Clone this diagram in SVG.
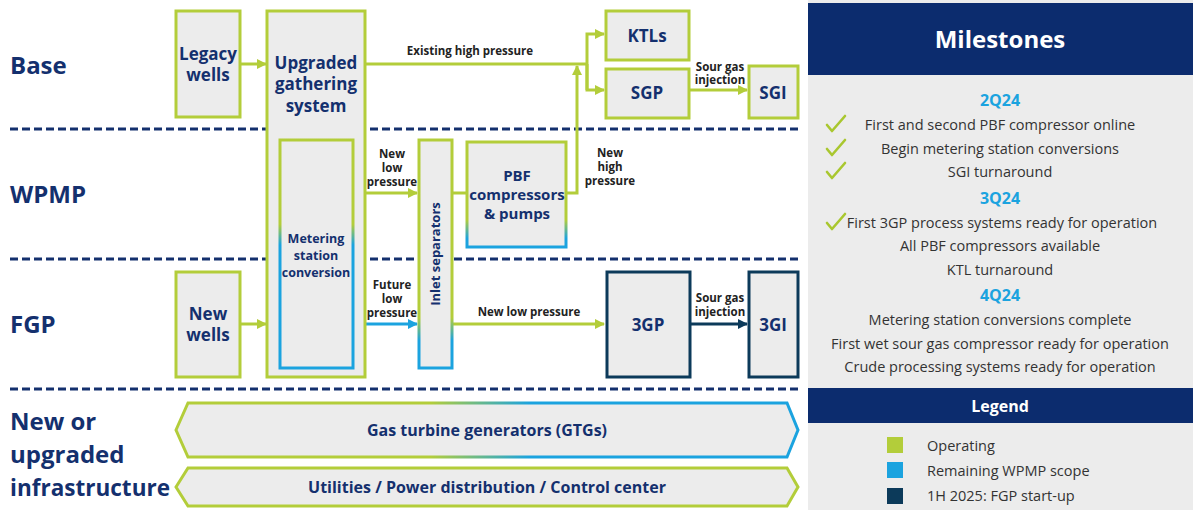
<svg xmlns="http://www.w3.org/2000/svg" width="1193" height="510" viewBox="0 0 1193 510">
<style>
.box{fill:#ececec;stroke:#b3cd3a;stroke-width:3}
.boxd{fill:#ececec;stroke:#0c3a5a;stroke-width:3}
.lbl{font-family:"Open Sans","Liberation Sans",sans-serif;font-weight:700;fill:#14306e;text-anchor:middle}
.row{font-family:"Open Sans","Liberation Sans",sans-serif;font-weight:700;fill:#14306e;font-size:24px}
.cl{font-family:"Open Sans","Liberation Sans",sans-serif;font-weight:700;fill:#222;font-size:11.5px;text-anchor:middle}
.dash{stroke:#14306e;stroke-width:3;stroke-dasharray:8 4;fill:none}
.g{stroke:#b3cd3a;stroke-width:3;fill:none}
.b{stroke:#1ba3df;stroke-width:3;fill:none}
.d{stroke:#0c3a5a;stroke-width:3;fill:none}
.ms{font-family:"Open Sans","Liberation Sans",sans-serif;fill:#333;font-size:14.5px;text-anchor:middle}
.q{font-family:"Open Sans","Liberation Sans",sans-serif;font-weight:700;fill:#1ba3df;font-size:16px;text-anchor:middle}
.hd{font-family:"Open Sans","Liberation Sans",sans-serif;font-weight:700;fill:#fff;text-anchor:middle}
.lg{font-family:"Open Sans","Liberation Sans",sans-serif;fill:#333;font-size:14.5px}
.chk{fill:none;stroke:#a9c72f;stroke-width:2.6;stroke-linecap:round;stroke-linejoin:round}
</style>
<defs>
<marker id="ag" markerWidth="10" markerHeight="10" refX="9" refY="5" orient="auto" markerUnits="userSpaceOnUse"><path d="M0,0 L10,5 L0,10 Z" fill="#b3cd3a"/></marker>
<marker id="ab" markerWidth="10" markerHeight="10" refX="9" refY="5" orient="auto" markerUnits="userSpaceOnUse"><path d="M0,0 L10,5 L0,10 Z" fill="#1ba3df"/></marker>
<marker id="ad" markerWidth="10" markerHeight="10" refX="9" refY="5" orient="auto" markerUnits="userSpaceOnUse"><path d="M0,0 L10,5 L0,10 Z" fill="#0c3a5a"/></marker>
<linearGradient id="gMet" gradientUnits="userSpaceOnUse" x1="0" y1="140" x2="0" y2="368"><stop offset="0.37" stop-color="#b3cd3a"/><stop offset="0.46" stop-color="#1ba3df"/></linearGradient>
<linearGradient id="gInl" gradientUnits="userSpaceOnUse" x1="0" y1="140" x2="0" y2="368"><stop offset="0.78" stop-color="#b3cd3a"/><stop offset="0.88" stop-color="#1ba3df"/></linearGradient>
<linearGradient id="gPbf" gradientUnits="userSpaceOnUse" x1="0" y1="142" x2="0" y2="247"><stop offset="0.74" stop-color="#b3cd3a"/><stop offset="0.92" stop-color="#1ba3df"/></linearGradient>
<linearGradient id="gGtg" gradientUnits="userSpaceOnUse" x1="430" y1="0" x2="530" y2="0"><stop offset="0" stop-color="#b3cd3a"/><stop offset="1" stop-color="#1ba3df"/></linearGradient>
</defs>
<rect width="1193" height="510" fill="#fff"/>

<g id="dividers">
<line class="dash" x1="10" y1="129" x2="800" y2="129"/>
<line class="dash" x1="10" y1="259" x2="800" y2="259"/>
<line class="dash" x1="10" y1="389" x2="800" y2="389"/>
</g>

<g id="row-labels">
<text class="row" x="10" y="74">Base</text>
<text class="row" x="10" y="203">WPMP</text>
<text class="row" x="10" y="333">FGP</text>
<text class="row" x="10" y="430">New or</text>
<text class="row" x="10" y="463">upgraded</text>
<text class="row" x="10" y="496" textLength="160" lengthAdjust="spacingAndGlyphs">infrastructure</text>
</g>

<g id="connectors">
<line class="g" x1="240" y1="64" x2="266" y2="64" marker-end="url(#ag)"/>
<line class="g" x1="240" y1="324" x2="266" y2="324" marker-end="url(#ag)"/>
<polyline class="g" points="365,64 587,64"/>
<polyline class="g" points="587,90 587,34 604,34" marker-end="url(#ag)"/>
<polyline class="g" points="587,64 587,90 604,90" marker-end="url(#ag)"/>
<polyline class="g" points="567,193 577,193 577,66" marker-end="url(#ag)"/>
<line class="g" x1="690" y1="90" x2="747" y2="90" marker-end="url(#ag)"/>
<line class="g" x1="353" y1="193" x2="417" y2="193" marker-end="url(#ag)"/>
<line class="b" x1="353" y1="324" x2="417" y2="324" marker-end="url(#ab)"/>
<line class="g" x1="452" y1="193" x2="467" y2="193"/>
<line class="g" x1="452" y1="324" x2="604" y2="324" marker-end="url(#ag)"/>
<line class="d" x1="690" y1="324" x2="747" y2="324" marker-end="url(#ad)"/>
<text class="cl" x="470" y="55">Existing high pressure</text>
<text class="cl" x="720" y="71">Sour gas</text>
<text class="cl" x="720" y="84">injection</text>
<text class="cl" x="392" y="158">New</text>
<text class="cl" x="392" y="172">low</text>
<text class="cl" x="392" y="186">pressure</text>
<text class="cl" x="392" y="289">Future</text>
<text class="cl" x="392" y="303">low</text>
<text class="cl" x="392" y="317">pressure</text>
<text class="cl" x="610" y="157">New</text>
<text class="cl" x="610" y="171">high</text>
<text class="cl" x="610" y="185">pressure</text>
<text class="cl" x="529" y="316">New low pressure</text>
<text class="cl" x="720" y="302">Sour gas</text>
<text class="cl" x="720" y="316">injection</text>
</g>

<g id="legacy-wells">
<rect class="box" x="176" y="11" width="64" height="106"/>
<text class="lbl" x="208" y="60" font-size="17">Legacy</text>
<text class="lbl" x="208" y="81" font-size="17">wells</text>
</g>

<g id="upgraded-gathering">
<rect class="box" x="267" y="11" width="98" height="366"/>
<text class="lbl" x="316" y="69" font-size="17">Upgraded</text>
<text class="lbl" x="316" y="90" font-size="17">gathering</text>
<text class="lbl" x="316" y="112" font-size="17">system</text>
</g>

<g id="metering-station">
<rect x="280" y="140" width="73" height="228" fill="#ececec" stroke="url(#gMet)" stroke-width="3"/>
<text class="lbl" x="316" y="243" font-size="12.5">Metering</text>
<text class="lbl" x="316" y="260" font-size="12.5">station</text>
<text class="lbl" x="316" y="277" font-size="12.5">conversion</text>
</g>

<g id="inlet-separators">
<rect x="419" y="140" width="33" height="228" fill="#ececec" stroke="url(#gInl)" stroke-width="3"/>
<text class="lbl" transform="translate(440,254) rotate(-90)" font-size="13">Inlet separators</text>
</g>

<g id="pbf">
<rect x="467" y="142" width="99" height="105" fill="#ececec" stroke="url(#gPbf)" stroke-width="3"/>
<text class="lbl" x="517" y="181" font-size="15">PBF</text>
<text class="lbl" x="517" y="200" font-size="15">compressors</text>
<text class="lbl" x="517" y="219" font-size="15">&amp; pumps</text>
</g>

<g id="ktls">
<rect class="box" x="606" y="11" width="83" height="49"/>
<text class="lbl" x="647" y="42" font-size="17">KTLs</text>
</g>

<g id="sgp">
<rect class="box" x="606" y="69" width="83" height="49"/>
<text class="lbl" x="647" y="99" font-size="17">SGP</text>
</g>

<g id="sgi">
<rect class="box" x="749" y="66" width="49" height="52"/>
<text class="lbl" x="773" y="99" font-size="17">SGI</text>
</g>

<g id="new-wells">
<rect class="box" x="176" y="272" width="64" height="105"/>
<text class="lbl" x="208" y="320" font-size="17">New</text>
<text class="lbl" x="208" y="341" font-size="17">wells</text>
</g>

<g id="3gp">
<rect class="boxd" x="607" y="272" width="83" height="105"/>
<text class="lbl" x="648" y="331" font-size="17">3GP</text>
</g>

<g id="3gi">
<rect class="boxd" x="749" y="272" width="49" height="105"/>
<text class="lbl" x="773" y="331" font-size="17">3GI</text>
</g>

<g id="gtg">
<polygon points="176,430 188,403 787,403 798,430 787,457 188,457" fill="#ececec" stroke="url(#gGtg)" stroke-width="3"/>
<text class="lbl" x="487" y="436" font-size="16">Gas turbine generators (GTGs)</text>
</g>

<g id="utilities">
<polygon points="176,487 188,468 787,468 798,487 787,506 188,506" fill="#ececec" stroke="#b3cd3a" stroke-width="3"/>
<text class="lbl" x="487" y="493" font-size="16">Utilities / Power distribution / Control center</text>
</g>

<g id="milestones">
<rect x="808" y="0" width="385" height="510" fill="#ececec"/>
<rect x="808" y="3" width="385" height="72" fill="#0c2c6e"/>
<text class="hd" x="1000" y="48" font-size="24">Milestones</text>
<text class="q" x="1000" y="106">2Q24</text>
<text class="ms" x="1000" y="130">First and second PBF compressor online</text>
<text class="ms" x="1000" y="154">Begin metering station conversions</text>
<text class="ms" x="1000" y="177">SGI turnaround</text>
<text class="q" x="1000" y="204">3Q24</text>
<text class="ms" x="1002" y="228">First 3GP process systems ready for operation</text>
<text class="ms" x="1000" y="251">All PBF compressors available</text>
<text class="ms" x="1000" y="275">KTL turnaround</text>
<text class="q" x="1000" y="301">4Q24</text>
<text class="ms" x="1000" y="325">Metering station conversions complete</text>
<text class="ms" x="1000" y="349">First wet sour gas compressor ready for operation</text>
<text class="ms" x="1000" y="372">Crude processing systems ready for operation</text>
<path class="chk" d="M827,125 L832,131 L845,116"/>
<path class="chk" d="M827,149 L832,155 L845,140"/>
<path class="chk" d="M827,172 L832,178 L845,163"/>
<path class="chk" d="M827,223 L832,229 L845,214"/>
</g>

<g id="legend">
<rect x="808" y="388" width="385" height="35" fill="#0c2c6e"/>
<text class="hd" x="1000" y="412" font-size="16">Legend</text>
<rect x="887" y="437" width="16" height="16" fill="#b3cd3a"/>
<rect x="887" y="462" width="16" height="16" fill="#1ba3df"/>
<rect x="887" y="488" width="16" height="16" fill="#0c3a5a"/>
<text class="lg" x="927" y="451">Operating</text>
<text class="lg" x="927" y="476">Remaining WPMP scope</text>
<text class="lg" x="927" y="501">1H 2025: FGP start-up</text>
</g>
</svg>
